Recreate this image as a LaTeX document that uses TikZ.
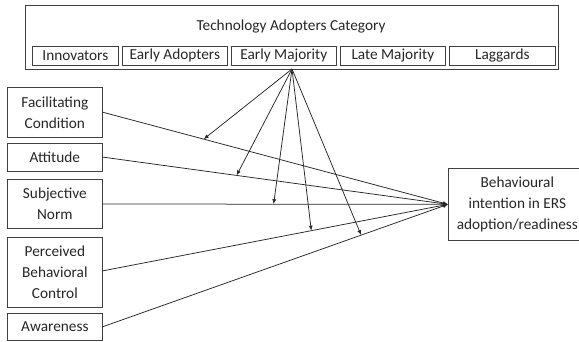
\documentclass[tikz,border=0pt]{standalone}
\usepackage{fontspec}
\setmainfont{Carlito}
\usetikzlibrary{calc,arrows.meta}
\begin{document}
\begin{tikzpicture}[x=1pt,y=-1pt,
  box/.style={draw=black!75, line width=0.7pt, inner sep=0pt, align=center, font=\fontsize{15.3}{21}\selectfont, text=black!85},
  lbl/.style={inner sep=0pt, font=\fontsize{15.3}{21}\selectfont, text=black!85},
  conn/.style={draw=black!85, line width=0.75pt, -{Latex[length=5pt,width=4pt]}}]
\useasboundingbox (0,0) rectangle (579,342);
% top outer box
\node[box, minimum width=533pt, minimum height=64pt, anchor=north west] (top) at (25,5) {};
\node[lbl] (title) at (291,27) {Technology Adopters Category};
\node[box, minimum width=86pt, minimum height=19pt, anchor=north west] (inn) at (32,46) {Innovators};
\node[box, minimum width=105pt, minimum height=19pt, anchor=north west] (ea) at (122,46) {Early Adopters};
\node[box, minimum width=105pt, minimum height=19pt, anchor=north west] (em) at (231,46) {Early Majority};
\node[box, minimum width=105pt, minimum height=19pt, anchor=north west] (lm) at (340,46) {Late Majority};
\node[box, minimum width=106pt, minimum height=19pt, anchor=north west] (lg) at (449,46) {Laggards};
\coordinate (apex) at (292,69);
% left boxes
\node[box, minimum width=95pt, minimum height=50pt, anchor=north west] (fc) at (7,87) {Facilitating\\Condition};
\node[box, minimum width=95pt, minimum height=28pt, anchor=north west] (at) at (7,143) {Attitude};
\node[box, minimum width=95pt, minimum height=49pt, anchor=north west] (sn) at (7,179) {Subjective\\Norm};
\node[box, minimum width=95pt, minimum height=70pt, anchor=north west] (pb) at (7,237) {Perceived\\Behavioral\\Control};
\node[box, minimum width=95pt, minimum height=27pt, anchor=north west] (aw) at (7,313) {Awareness};
% target (right edge runs past the picture edge, as in the reference)
\node[box, minimum width=138pt, minimum height=72pt, anchor=north west] (bi) at (448,168) {Behavioural\\intention in ERS\\adoption/readiness};
% connectors
\coordinate (t1) at (102,112);
\coordinate (t2) at (102,157);
\coordinate (t3) at (102,204);
\coordinate (t4) at (102,271);
\coordinate (t5) at (102,327);
\draw[conn] (t1) -- (bi.west);
\draw[conn] (t2) -- (bi.west);
\draw[conn] (t3) -- (bi.west);
\draw[conn] (t4) -- (bi.west);
\draw[conn] (t5) -- (bi.west);
\draw[conn] (apex) -- ($(t1)!0.294!(bi.west)$);
\draw[conn] (apex) -- ($(t2)!0.389!(bi.west)$);
\draw[conn] (apex) -- ($(t3)!0.496!(bi.west)$);
\draw[conn] (apex) -- ($(t4)!0.605!(bi.west)$);
\draw[conn] (apex) -- ($(t5)!0.749!(bi.west)$);
\end{tikzpicture}
\end{document}
